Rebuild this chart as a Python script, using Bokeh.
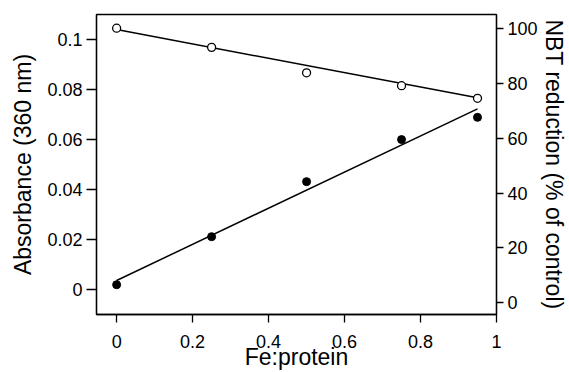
from bokeh.plotting import figure
from bokeh.models import Range1d, LinearAxis, FixedTicker, CustomJSTickFormatter, ColumnDataSource
from bokeh.embed import file_html
from bokeh.resources import INLINE

# Data
fe_ratio = [0, 0.25, 0.5, 0.75, 0.95]
absorbance = [0.002, 0.0212, 0.0432, 0.060, 0.0689]
nbt_reduction = [100.2, 93.2, 83.9, 79.2, 74.6]
fit_x = [0, 0.95]
absorbance_fit = [0.0037, 0.0723]
nbt_fit = [99.7, 74.8]

x_ticks = [0, 0.2, 0.4, 0.6, 0.8, 1]
left_ticks = [0, 0.02, 0.04, 0.06, 0.08, 0.1]
right_ticks = [0, 20, 40, 60, 80, 100]

FONT = "Liberation Sans"

p = figure(width=569, height=372, output_backend="svg", toolbar_location=None,
           x_range=Range1d(-0.053, 1.0), y_range=Range1d(-0.0099, 0.110),
           min_border_left=96, min_border_right=73, min_border_top=14, min_border_bottom=56)
p.extra_y_ranges = {"nbt": Range1d(-4.35, 105.2)}
p.grid.visible = False
p.outline_line_color = "black"
p.outline_line_width = 1.3
p.background_fill_color = "white"
p.border_fill_color = "white"

fmt = CustomJSTickFormatter(code="return String(Math.round(tick*1000)/1000);")

p.xaxis.ticker = FixedTicker(ticks=x_ticks)
p.yaxis.ticker = FixedTicker(ticks=left_ticks)
p.xaxis.formatter = fmt
p.yaxis.formatter = fmt
p.xaxis.axis_label = "Fe:protein"
p.yaxis.axis_label = "Absorbance (360 nm)"

right = LinearAxis(y_range_name="nbt", ticker=FixedTicker(ticks=right_ticks), formatter=fmt,
                   axis_label="NBT reduction (% of control)")
p.add_layout(right, "right")

for ax in p.xaxis + p.yaxis + [right]:
    ax.axis_line_color = "black"
    ax.axis_line_width = 1.3
    ax.major_tick_line_color = "black"
    ax.major_tick_line_width = 1.3
    ax.minor_tick_line_color = None
    ax.major_tick_in = 0
    ax.major_label_text_font = FONT
    ax.major_label_text_font_size = "18px"
    ax.major_label_text_color = "black"
    ax.axis_label_text_font = FONT
    ax.axis_label_text_font_size = "23px"
    ax.axis_label_text_font_style = "normal"
    ax.axis_label_text_color = "black"

p.yaxis.major_tick_out = 10
p.yaxis.major_label_standoff = 4
p.yaxis.axis_label_standoff = 8
right.major_tick_out = 7
right.major_label_standoff = 4
right.axis_label_standoff = 0
p.xaxis.major_tick_out = 8
p.xaxis.major_label_standoff = 12
p.xaxis.axis_label_standoff = -7

src_pts = ColumnDataSource(dict(x=fe_ratio, a=absorbance, n=nbt_reduction))
src_fit = ColumnDataSource(dict(x=fit_x, a=absorbance_fit, n=nbt_fit))

p.line("x", "a", source=src_fit, line_color="black", line_width=1.5)
p.line("x", "n", source=src_fit, line_color="black", line_width=1.5, y_range_name="nbt")
p.scatter("x", "a", source=src_pts, size=8, fill_color="black", line_color="black")
p.scatter("x", "n", source=src_pts, size=8, fill_color="white", line_color="black",
          line_width=1.3, y_range_name="nbt")

open("out.html", "w").write(file_html(p, INLINE))
